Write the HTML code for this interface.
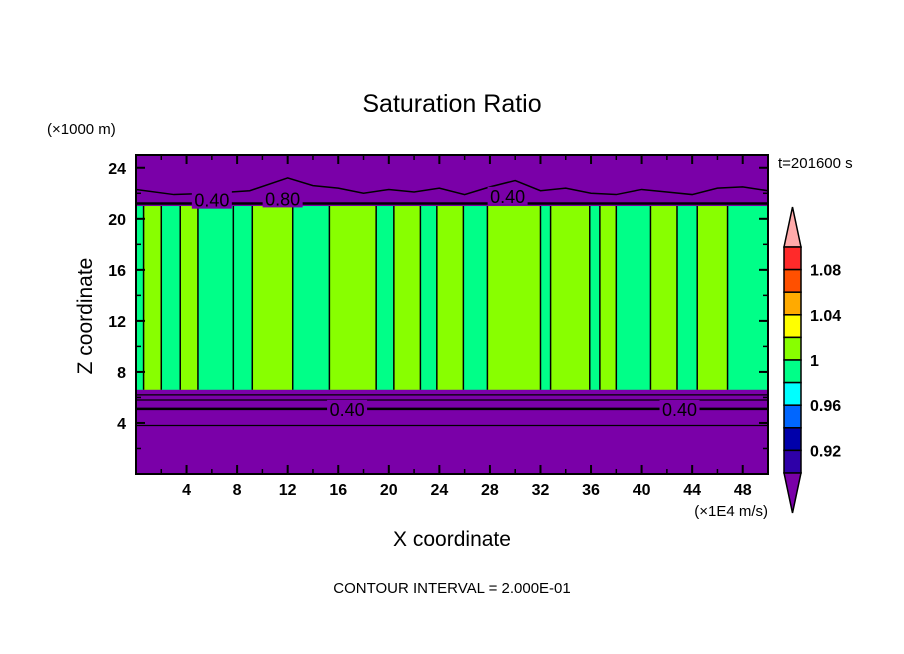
<!DOCTYPE html>
<html><head><meta charset="utf-8"><style>
body{margin:0;background:#fff;}
svg{display:block;font-family:"Liberation Sans",sans-serif;}
</style></head><body>
<svg id="c" width="904" height="654" xmlns="http://www.w3.org/2000/svg">
<text x="452" y="112" font-size="25" text-anchor="middle">Saturation Ratio</text>
<text x="47" y="134" font-size="15">(×1000 m)</text>
<text x="92" y="316" font-size="21" text-anchor="middle" transform="rotate(-90 92 316)">Z coordinate</text>
<text x="452" y="546" font-size="21" text-anchor="middle">X coordinate</text>
<text x="768" y="516" font-size="15" text-anchor="end">(×1E4 m/s)</text>
<text x="452" y="593" font-size="15" text-anchor="middle">CONTOUR INTERVAL = 2.000E-01</text>
<text x="778" y="168" font-size="15">t=201600 s</text>
<g id="plot"></g>
<g id="cb"></g>
</svg>
<script>
const stripeEdges=[0,0.6,2.0,3.5,4.9,7.7,9.2,12.4,15.3,19,20.4,22.5,23.8,25.9,27.8,32,32.8,35.9,36.7,38,40.7,42.8,44.4,46.8,50];
const stripeKinds=[1,0,1,0,1,1,0,1,0,1,0,1,0,1,0,1,0,1,0,1,0,1,0,1];
const cloudTop=21, cloudBase=6.6;
const contourLevels=[21.2,6.2,5.8,5.1,3.8];
const topContourX=[0,3,6,9,12,14,16,18,20,22,24,26,28,30,32,34,36,38,40,42,44,46,48,50];
const topContourZ=[22.3,21.9,22.0,22.2,23.2,22.6,22.4,22.0,22.3,22.1,22.4,21.9,22.5,23.0,22.2,22.4,22.0,21.9,22.3,22.1,21.9,22.4,22.5,22.2];
const contourLabels=[["0.40",6,21.5],["0.80",11.6,21.6],["0.40",29.4,21.8],["0.40",16.7,5.1],["0.40",43,5.1]];
const xTicks=[4,8,12,16,20,24,28,32,36,40,44,48];
const yTicks=[4,8,12,16,20,24];
const cbColors=["#ff2a2a","#ff5000","#ffaa00","#ffff00","#88ff00","#00ff88","#00ffff","#0066ff","#0000aa","#2e00a8"];
const cbLabels=["1.08","1.04","1","0.96","0.92"];
const NS="http://www.w3.org/2000/svg";
const X0=136,X1=768,Y0=474,Y1=155;
const sx=v=>X0+(v/50)*(X1-X0);
const sy=v=>Y0-(v/25)*(Y0-Y1);
function mk(t,a,p){const e=document.createElementNS(NS,t);for(const k in a)e.setAttribute(k,a[k]);p.appendChild(e);return e;}
const P=document.getElementById('plot');
let bg=mk('rect',{x:X0,y:Y1,width:X1-X0,height:Y0-Y1,fill:'#7a00a8'},P);


for(let i=0;i<stripeKinds.length;i++){
 const r=mk('rect',{x:sx(stripeEdges[i]),y:sy(cloudTop),width:sx(stripeEdges[i+1])-sx(stripeEdges[i]),height:sy(cloudBase)-sy(cloudTop),fill:stripeKinds[i]?'#00ff88':'#88ff00'},P);
 
 
 if(i>0){const l=mk('line',{x1:sx(stripeEdges[i]),x2:sx(stripeEdges[i]),y1:sy(cloudTop),y2:sy(cloudBase),stroke:'#000','stroke-width':1.5},P);
 
 }
}
contourLevels.forEach((z,i)=>{
 const l=mk('line',{x1:X0,x2:X1,y1:sy(z),y2:sy(z),stroke:'#000','stroke-width':(i==0||i==3)?2.5:1.3},P);
 
 
});
const tp=mk('polyline',{points:topContourX.map((x,i)=>sx(x)+','+sy(topContourZ[i])).join(' '),fill:'none',stroke:'#000','stroke-width':1.5},P);


contourLabels.forEach(p=>{
 const b=mk('rect',{x:sx(p[1])-20,y:sy(p[2])-9,width:40,height:18,fill:'#7a00a8'},P);
 
 
 const t=mk('text',{x:sx(p[1]),y:sy(p[2])+7,'font-size':18,'text-anchor':'middle',fill:'#000'},P);
 t.textContent=p[0];
 
 
});
const fr=mk('rect',{x:X0,y:Y1,width:X1-X0,height:Y0-Y1,fill:'none',stroke:'#000','stroke-width':2},P);


for(let v=2;v<50;v+=2){mk('line',{x1:sx(v),x2:sx(v),y1:Y0,y2:Y0-5,stroke:'#000','stroke-width':1.5},P);mk('line',{x1:sx(v),x2:sx(v),y1:Y1,y2:Y1+5,stroke:'#000','stroke-width':1.5},P);}
for(let v=2;v<25;v+=2){mk('line',{x1:X0,x2:X0+5,y1:sy(v),y2:sy(v),stroke:'#000','stroke-width':1.5},P);mk('line',{x1:X1,x2:X1-5,y1:sy(v),y2:sy(v),stroke:'#000','stroke-width':1.5},P);}
xTicks.forEach(v=>{
 mk('line',{x1:sx(v),x2:sx(v),y1:Y0,y2:Y0-9,stroke:'#000','stroke-width':2},P);
 mk('line',{x1:sx(v),x2:sx(v),y1:Y1,y2:Y1+9,stroke:'#000','stroke-width':2},P);
 const t=mk('text',{x:sx(v),y:Y0+21,'font-size':16,'font-weight':'bold','text-anchor':'middle'},P);t.textContent=v;
 
 
});
yTicks.forEach(v=>{
 mk('line',{x1:X0,x2:X0+9,y1:sy(v),y2:sy(v),stroke:'#000','stroke-width':2},P);
 mk('line',{x1:X1,x2:X1-9,y1:sy(v),y2:sy(v),stroke:'#000','stroke-width':2},P);
 const t=mk('text',{x:X0-10,y:sy(v)+6,'font-size':16,'font-weight':'bold','text-anchor':'end'},P);t.textContent=v;
 
 
});
const C=document.getElementById('cb');
const cx=784,cw=17,ct=247,cbot=473,bh=(cbot-ct)/cbColors.length;
const tt=mk('polygon',{points:`${cx},${ct} ${cx+cw/2},207 ${cx+cw},${ct}`,fill:'#ffaaaa',stroke:'#000','stroke-width':1.5},C);


cbColors.forEach((c,i)=>{
 const r=mk('rect',{x:cx,y:ct+i*bh,width:cw,height:bh,fill:c,stroke:'#000','stroke-width':1.5},C);
 
 
});
const bt=mk('polygon',{points:`${cx},${cbot} ${cx+cw/2},513 ${cx+cw},${cbot}`,fill:'#7a00a8',stroke:'#000','stroke-width':1.5},C);


cbLabels.forEach((s,i)=>{
 const t=mk('text',{x:810,y:ct+(2*i+1)*bh+6,'font-size':16,'font-weight':'bold'},C);t.textContent=s;
 
 
});
</script>
</body></html>
